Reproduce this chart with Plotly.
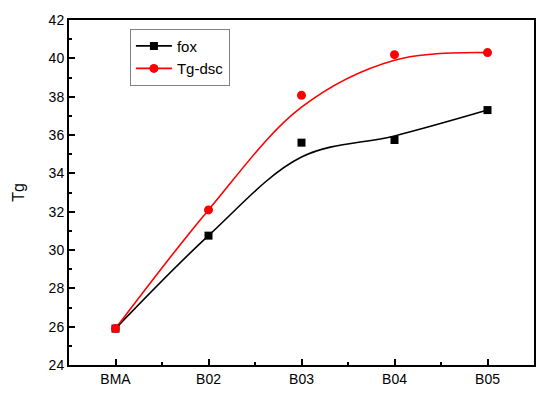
import plotly.graph_objects as go

categories = ["BMA", "B02", "B03", "B04", "B05"]
fox_points = [25.9, 30.75, 35.6, 35.74, 37.3]
dsc_points = [25.9, 32.09, 38.07, 40.19, 40.3]
# smoothed curve values at each category
fox_curve = [25.9, 30.75, 34.85, 35.95, 37.3]
dsc_curve = [25.9, 32.09, 37.45, 39.9, 40.3]
y_ticks = [24, 26, 28, 30, 32, 34, 36, 38, 40, 42]

xi = list(range(len(categories)))
FONT = "Liberation Sans, Arial, sans-serif"

fig = go.Figure()
fig.add_trace(go.Scatter(x=xi, y=fox_curve, mode="lines", line=dict(color="black", width=1.6, shape="spline", smoothing=1.0), showlegend=False, hoverinfo="skip"))
fig.add_trace(go.Scatter(x=xi, y=dsc_curve, mode="lines", line=dict(color="#ff0000", width=1.6, shape="spline", smoothing=1.0), showlegend=False, hoverinfo="skip"))
fig.add_trace(go.Scatter(x=xi, y=fox_points, mode="markers", marker=dict(symbol="square", size=8, color="black"), showlegend=False))
fig.add_trace(go.Scatter(x=xi, y=dsc_points, mode="markers", marker=dict(symbol="circle", size=9, color="#ff0000"), showlegend=False))
fig.add_trace(go.Scatter(x=[None], y=[None], mode="lines+markers", name="fox", line=dict(color="black", width=1.6), marker=dict(symbol="square", size=8, color="black")))
fig.add_trace(go.Scatter(x=[None], y=[None], mode="lines+markers", name="Tg-dsc", line=dict(color="#ff0000", width=1.6), marker=dict(symbol="circle", size=9, color="#ff0000")))

fig.update_layout(
    width=542, height=386,
    margin=dict(l=61, r=16, t=12, b=29),
    paper_bgcolor="white", plot_bgcolor="white",
    font=dict(family=FONT, size=14, color="black"),
    legend=dict(x=0.131, y=0.975, xanchor="left", yanchor="top", bordercolor="#808080", borderwidth=1,
                bgcolor="white", font=dict(size=15, family=FONT), tracegroupgap=0, itemwidth=36),
)
fig.update_xaxes(
    range=[-0.5, 4.5], tickmode="array", tickvals=xi, ticktext=categories, automargin=False,
    showgrid=False, zeroline=False, showline=True, linecolor="black", linewidth=2, mirror=True,
    ticks="inside", ticklen=6, tickwidth=1.5, tickcolor="black", tickfont=dict(size=14),
    minor=dict(dtick=0.5, tick0=-0.5, ticks="inside", ticklen=3, tickwidth=1.5, tickcolor="black", showgrid=False),
)
fig.update_yaxes(
    range=[24, 42], tickmode="array", tickvals=y_ticks, automargin=False,
    title=dict(text="Tg", font=dict(size=16), standoff=20),
    showgrid=False, zeroline=False, showline=True, linecolor="black", linewidth=2, mirror=True,
    ticks="inside", ticklen=6, tickwidth=1.5, tickcolor="black", tickfont=dict(size=14),
    minor=dict(dtick=1, tick0=24, ticks="inside", ticklen=3, tickwidth=1.5, tickcolor="black", showgrid=False),
)
fig.write_html("out.html")
